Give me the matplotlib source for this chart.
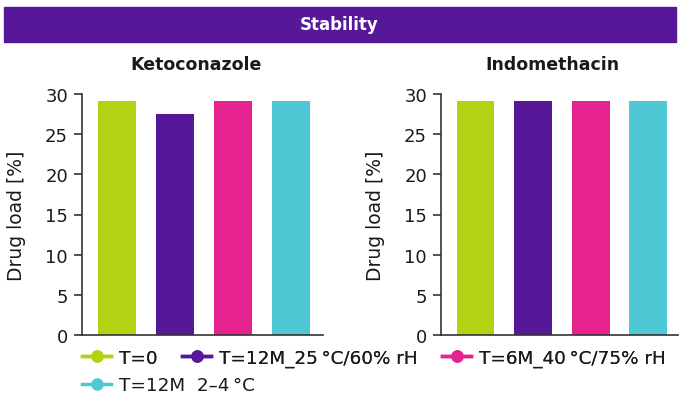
import matplotlib.pyplot as plt
from matplotlib.lines import Line2D
from matplotlib.patches import Rectangle

series = ["T=0", "T=12M_25\u2009°C/60% rH", "T=6M_40\u2009°C/75% rH", "T=12M  2\u20134\u2009°C"]
colors = ["#B2D314", "#561899", "#E5228E", "#4DC8D4"]
drugs = ["Ketoconazole", "Indomethacin"]
keto = [29.1, 27.5, 29.1, 29.1]
indo = [29.1, 29.1, 29.1, 29.1]
yticks = [0, 5, 10, 15, 20, 25, 30]

W, H = 679, 402
fig = plt.figure(figsize=(W / 100, H / 100), dpi=100)
plt.rcParams['font.family'] = ['DejaVu Sans']
txt = "#1a1a1a"

# banner
fig.patches.append(Rectangle((4 / W, 1 - 43 / H), 672 / W, 35 / H,
                             transform=fig.transFigure, color="#561899", zorder=0))
fig.text(0.5, 1 - 25.5 / H, "Stability", color="white", fontsize=12,
         ha="center", va="center", fontweight="semibold")

boxes = [(82, 241), (441, 237)]
title_x = [196, 552]
for i, (vals, (x0, w)) in enumerate(zip([keto, indo], boxes)):
    ax = fig.add_axes([x0 / W, (H - 336) / H, w / W, 241 / H])
    ax.bar(range(4), vals, width=0.66, color=colors)
    ax.set_ylim(0, 30)
    ax.set_xlim(-0.6, 3.55 if i == 0 else 3.52)
    ax.set_yticks(yticks)
    ax.set_xticks([])
    for s in ["top", "right"]:
        ax.spines[s].set_visible(False)
    for s in ["left", "bottom"]:
        ax.spines[s].set_color("#333333")
        ax.spines[s].set_linewidth(1.2)
    ax.tick_params(axis="y", length=6, width=1.2, color="#333333",
                   labelsize=13, labelcolor=txt, pad=4)
    ax.set_ylabel("Drug load [%]", fontsize=13.5, color=txt, labelpad=14)
    fig.text(title_x[i] / W, 1 - 65 / H, drugs[i], fontsize=12.5, fontweight="bold",
             ha="center", va="center", color=txt)

handles = [Line2D([], [], color=c, marker="o", lw=2.5, markersize=8) for c in colors]
kw = dict(frameon=False, fontsize=13.2, handlelength=1.6, handletextpad=0.4,
          columnspacing=1.35, borderaxespad=0, borderpad=0)
leg1 = fig.legend(handles[:3], series[:3], loc="center left", ncol=3,
                  bbox_to_anchor=(82 / W, 1 - 359 / H), **kw)
for t in leg1.get_texts():
    t.set_color(txt)
leg2 = fig.legend(handles[3:], series[3:], loc="center left", ncol=1,
                  bbox_to_anchor=(82 / W, 1 - 386 / H), **kw)
for t in leg2.get_texts():
    t.set_color(txt)
fig.add_artist(leg1)

fig.savefig("out.png", dpi=100)
